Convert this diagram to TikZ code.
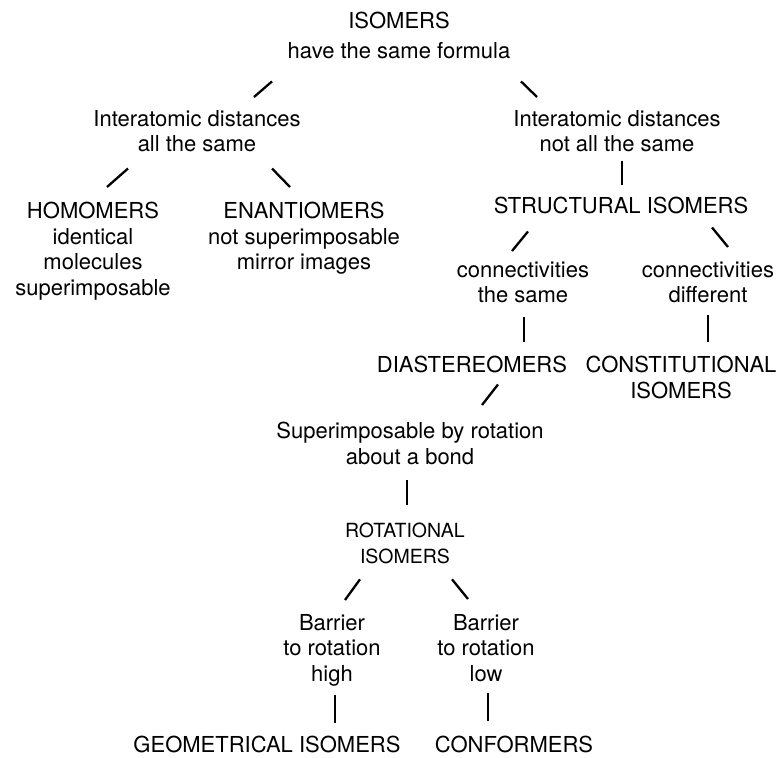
\documentclass[tikz,border=0pt]{standalone}
\usepackage{fontspec}
\setmainfont{TeX Gyre Heros}
\begin{document}
\begin{tikzpicture}[x=1pt,y=-1pt,
  lbl/.style={font=\fontsize{22}{25.5}\selectfont, align=center, inner sep=0pt, anchor=north},
  lblsmall/.style={lbl, font=\fontsize{19.5}{26}\selectfont},
  link/.style={line width=2.3pt, line cap=butt}]
\useasboundingbox[fill=white] (0,0) rectangle (781,757);

% classification tree of isomers
\node[lbl] (iso)   at (399,12.25)  {ISOMERS\\[4.5pt]have the same formula};
\node[lbl] (same)  at (197,110.25) {Interatomic distances\\all the same};
\node[lbl] (diff)  at (617,110.25) {Interatomic distances\\not all the same};
\node[lbl] (homo)  at (93,202.25)  {HOMOMERS\\identical\\molecules\\superimposable};
\node[lbl] (enan)  at (304,202.25) {ENANTIOMERS\\not superimposable\\mirror images};
\node[lbl] (struc) at (621,197.25) {STRUCTURAL ISOMERS};
\node[lbl] (csame) at (523,261.25) {connectivities\\the same};
\node[lbl] (cdiff) at (708,261.25) {connectivities\\different};
\node[lbl] (dia)   at (472,356.25) {DIASTEREOMERS};
\node[lbl] (const) at (681,356.25) {CONSTITUTIONAL\\ISOMERS};
\node[lbl] (super) at (410,422.25) {Superimposable by rotation\\about a bond};
\node[lblsmall] (rot) at (405,523) {ROTATIONAL\\ISOMERS};
\node[lbl] (high)  at (332,614.25) {Barrier\\to rotation\\high};
\node[lbl] (low)   at (486,614.25) {Barrier\\to rotation\\low};
\node[lbl] (geom)  at (267,736.25) {GEOMETRICAL ISOMERS};
\node[lbl] (conf)  at (514,736.25) {CONFORMERS};

% short strokes joining each class to its subclasses
\draw[link] ([shift={(-127,22)}]iso.south)   -- ([shift={(57,-13.25)}]same.north);
\draw[link] ([shift={(122,22)}]iso.south)    -- ([shift={(-80,-13.25)}]diff.north);
\draw[link] ([shift={(-69,16)}]same.south)   -- ([shift={(14,-15.25)}]homo.north);
\draw[link] ([shift={(75,16)}]same.south)    -- ([shift={(-14,-15.25)}]enan.north);
\draw[link] ([shift={(5,8)}]diff.south)      -- ([shift={(1,-12.25)}]struc.north);
\draw[link] ([shift={(-93,17)}]struc.south)  -- ([shift={(-11,-10.25)}]csame.north);
\draw[link] ([shift={(91,13)}]struc.south)   -- ([shift={(20,-14.25)}]cdiff.north);
\draw[link] ([shift={(1,14)}]csame.south)    -- ([shift={(52,-14.25)}]dia.north);
\draw[link] ([shift={(0,12)}]cdiff.south)    -- ([shift={(27,-14.25)}]const.north);
\draw[link] ([shift={(26,11)}]dia.south)     -- ([shift={(72,-17.25)}]super.north);
\draw[link] ([shift={(-3,15)}]super.south)   -- ([shift={(2,-18)}]rot.north);
\draw[link] ([shift={(-45,15)}]rot.south)    -- ([shift={(13,-14.25)}]high.north);
\draw[link] ([shift={(47,15)}]rot.south)     -- ([shift={(-18,-15.25)}]low.north);
\draw[link] ([shift={(3,8.4)}]high.south)    -- ([shift={(68,-13.25)}]geom.north);
\draw[link] ([shift={(2,11)}]low.south)      -- ([shift={(-26,-15.25)}]conf.north);
\end{tikzpicture}
\end{document}
